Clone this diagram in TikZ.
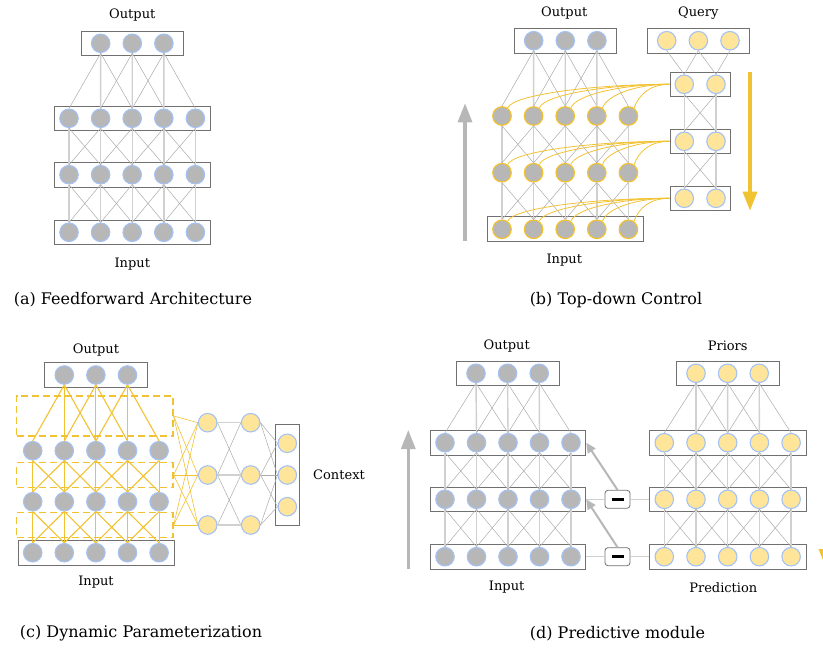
\documentclass[tikz,border=0pt]{standalone}
\usepackage{fontspec}
\setmainfont{DejaVu Serif}
\usetikzlibrary{arrows.meta,fit,positioning}

\definecolor{nodeblue}{HTML}{A4C2F4}
\definecolor{nodegray}{HTML}{B7B7B7}
\definecolor{nodeyellow}{HTML}{FFE599}
\definecolor{gold}{HTML}{F1C232}
\definecolor{boxgray}{HTML}{707070}
\definecolor{linegray}{HTML}{ABABAB}
\definecolor{linelight}{HTML}{D0D0D0}
\definecolor{arrowgray}{HTML}{B7B7B7}

\tikzset{
  neuron/.style={circle, minimum size=18.5pt, inner sep=0pt, line width=1.1pt, draw=nodeblue, fill=nodegray},
  yneuron/.style={neuron, fill=nodeyellow},
  gneuron/.style={neuron, draw=gold, line width=1.2pt},
  lbox/.style={draw=boxgray, line width=0.8pt, inner xsep=5pt, inner ysep=2.6pt},
  obox/.style={lbox, inner xsep=10pt},
  dashbox/.style={draw=gold, line width=1.2pt, dash pattern=on 7pt off 4pt, inner sep=0pt},
  minusbox/.style={draw=boxgray, fill=white, rounded corners=3pt, line width=0.8pt, minimum width=25pt, minimum height=18pt, inner sep=0pt},
  dline/.style={draw=linegray, line width=0.5pt},
  vline/.style={draw=linelight, line width=1.4pt},
  ycon/.style={draw=gold, line width=1.1pt},
  ythin/.style={draw=gold, line width=0.6pt},
  ycurve/.style={draw=gold, line width=0.8pt},
  bigarrow/.style={line width=3.2pt, -{Triangle[length=19pt,width=14pt]}},
  smallarrow/.style={draw=arrowgray, line width=2pt, -{Triangle[length=10pt,width=9pt]}},
  label/.style={font=\fontsize{13}{15}\selectfont},
  caption/.style={font=\fontsize{16}{18}\selectfont}
}

% 3 nodes above, 5 below
\newcommand{\fanrows}[4]{%
  \foreach \i [evaluate=\i as \j using int(\i+1), evaluate=\i as \k using int(\i+2)] in {1,2,3} {
    \draw[#3] (#1-\i.south) -- (#2-\j.north);
    \draw[#4] (#1-\i.south) -- (#2-\i.north);
    \draw[#4] (#1-\i.south) -- (#2-\k.north);
  }
}
% 5 nodes above, 5 below
\newcommand{\meshrows}[4]{%
  \foreach \i in {1,...,5} {
    \draw[#3] (#1-\i.south) -- (#2-\i.north);
  }
  \foreach \i [evaluate=\i as \j using int(\i+1)] in {1,...,4} {
    \draw[#4] (#1-\i.south) -- (#2-\j.north);
    \draw[#4] (#1-\j.south) -- (#2-\i.north);
  }
}

\begin{document}
\begin{tikzpicture}[x=1pt,y=-1pt]
\useasboundingbox (0,0) rectangle (823,648);

%% (a) feedforward
\foreach \i in {1,2,3}
  \node[neuron] (a-0-\i) at ({100.7+31.6*(\i-1)},43.3) {};
\foreach \r/\y in {1/118.3,2/174.7,3/232.3}
  \foreach \i in {1,...,5}
    \node[neuron] (a-\r-\i) at ({69+31.6*(\i-1)},\y) {};
\node[obox, fit=(a-0-1)(a-0-3)] (a-0box) {};
\foreach \r in {1,2,3}
  \node[lbox, fit=(a-\r-1)(a-\r-5)] (a-\r box) {};
\fanrows{a-0}{a-1}{vline}{dline}
\meshrows{a-1}{a-2}{vline}{dline}
\meshrows{a-2}{a-3}{vline}{dline}
\node[label] (a-out) at (132.3,15) {Output};
\node[label] (a-in) at (132.3,264) {Input};
\node[caption] (a-cap) at (133,300) {(a) Feedforward Architecture};

%% (b) top-down control
\foreach \i in {1,2,3}
  \node[neuron] (b-0-\i) at ({533.7+31.6*(\i-1)},40.7) {};
\foreach \r/\y in {1/116,2/172.7,3/229.3}
  \foreach \i in {1,...,5}
    \node[gneuron] (b-\r-\i) at ({502+31.6*(\i-1)},\y) {};
\foreach \i in {1,2,3}
  \node[yneuron] (b-q0-\i) at ({666.7+31.65*(\i-1)},40.7) {};
\foreach \r/\y in {1/84.3,2/141.3,3/198.3}
  \foreach \i in {1,2}
    \node[yneuron] (b-q\r-\i) at ({684.3+31.7*(\i-1)},\y) {};
\node[obox, fit=(b-0-1)(b-0-3)] (b-0box) {};
\node[lbox, fit=(b-3-1)(b-3-5)] (b-3box) {};
\node[obox, fit=(b-q0-1)(b-q0-3)] (b-q0box) {};
\foreach \r in {1,2,3}
  \node[lbox, inner xsep=4.5pt, fit=(b-q\r-1)(b-q\r-2)] (b-q\r box) {};
\fanrows{b-0}{b-1}{vline}{dline}
\meshrows{b-1}{b-2}{vline}{dline}
\meshrows{b-2}{b-3}{vline}{dline}
\draw[dline] (b-q0-1.south) -- (b-q1-1.north);
\draw[dline] (b-q0-2.south) -- (b-q1-1.north);
\draw[dline] (b-q0-2.south) -- (b-q1-2.north);
\draw[dline] (b-q0-3.south) -- (b-q1-2.north);
\foreach \r/\s in {1/2,2/3} {
  \draw[vline] (b-q\r-1.south) -- (b-q\s-1.north);
  \draw[vline] (b-q\r-2.south) -- (b-q\s-2.north);
  \draw[dline] (b-q\r-1.south) -- (b-q\s-2.north);
  \draw[dline] (b-q\r-2.south) -- (b-q\s-1.north);
}
\foreach \r in {1,2,3}
  \foreach \i in {1,...,5}
    \draw[ycurve] (b-q\r box.west) to[out=180,in=70,out looseness=1.2,in distance=14pt] (b-\r-\i.55);
\coordinate (b-up-s) at (465,240.7);
\coordinate (b-up-e) at (465,103.3);
\coordinate (b-dn-s) at (750,71.7);
\coordinate (b-dn-e) at (750,210.7);
\draw[bigarrow, draw=arrowgray, fill=arrowgray] (b-up-s) -- (b-up-e);
\draw[bigarrow, draw=gold, fill=gold] (b-dn-s) -- (b-dn-e);
\node[label] (b-out) at (564.3,13) {Output};
\node[label] (b-query) at (698.3,13) {Query};
\node[label] (b-in) at (564.3,260) {Input};
\node[caption] (b-cap) at (616,300) {(b) Top-down Control};

%% (c) dynamic parameterization
\foreach \i in {1,2,3}
  \node[neuron] (c-0-\i) at ({64.3+31.6*(\i-1)},375) {};
\foreach \r/\y in {1/450.7,2/501.7,3/552.7}
  \foreach \i in {1,...,5}
    \node[neuron] (c-\r-\i) at ({32.7+31.6*(\i-1)},\y) {};
\node[obox, fit=(c-0-1)(c-0-3)] (c-0box) {};
\node[lbox, fit=(c-3-1)(c-3-5)] (c-3box) {};
\node[dashbox, minimum width=156.3pt, minimum height=40pt] (c-d1) at (94.85,416) {};
\node[dashbox, minimum width=156.3pt, minimum height=24.6pt] (c-d2) at (94.85,475) {};
\node[dashbox, minimum width=156.3pt, minimum height=24.6pt] (c-d3) at (94.85,525) {};
\fanrows{c-0}{c-1}{ycon}{ycon}
\meshrows{c-1}{c-2}{ycon}{ycon}
\meshrows{c-2}{c-3}{ycon}{ycon}
\foreach \r/\y in {1/422.7,2/475,3/525} {
  \node[yneuron] (c-h1-\r) at (207.7,\y) {};
  \node[yneuron] (c-h2-\r) at (250.7,\y) {};
}
\foreach \r/\y in {1/443.3,2/475,3/506.7}
  \node[yneuron] (c-ctx-\r) at (287.3,\y) {};
\node[lbox, inner xsep=2.5pt, inner ysep=9pt, fit=(c-ctx-1)(c-ctx-3)] (c-ctxbox) {};
\foreach \d in {1,2,3}
  \foreach \m in {1,2,3}
    \draw[ythin] (c-d\d.east) -- (c-h1-\m.west);
\foreach \r [evaluate=\r as \s using int(\r+1)] in {1,2} {
  \draw[dline] (c-h1-\r.east) -- (c-h2-\s.west);
  \draw[dline] (c-h1-\s.east) -- (c-h2-\r.west);
  \draw[dline] (c-h2-\r.east) -- (c-ctx-\s.west);
  \draw[dline] (c-h2-\s.east) -- (c-ctx-\r.west);
}
\foreach \r in {1,2,3} {
  \draw[vline] (c-h1-\r.east) -- (c-h2-\r.west);
  \draw[dline] (c-h2-\r.east) -- (c-ctx-\r.west);
}
\node[label] (c-out) at (96,350) {Output};
\node[label] (c-in) at (96,581.7) {Input};
\node[label] (c-ctx) at (339,475) {Context};
\node[caption] (c-cap) at (141,633.3) {(c) Dynamic Parameterization};

%% (d) predictive module
\foreach \i in {1,2,3} {
  \node[neuron] (d-0-\i) at ({476+31.6*(\i-1)},373.3) {};
  \node[yneuron] (d-p0-\i) at ({696+31.6*(\i-1)},373.3) {};
}
\foreach \r/\y in {1/442.7,2/499.3,3/556.7}
  \foreach \i in {1,...,5} {
    \node[neuron] (d-\r-\i) at ({445+31.5*(\i-1)},\y) {};
    \node[yneuron] (d-p\r-\i) at ({664.3+31.7*(\i-1)},\y) {};
  }
\node[obox, fit=(d-0-1)(d-0-3)] (d-0box) {};
\node[obox, fit=(d-p0-1)(d-p0-3)] (d-p0box) {};
\foreach \r in {1,2,3} {
  \node[lbox, fit=(d-\r-1)(d-\r-5)] (d-\r box) {};
  \node[lbox, fit=(d-p\r-1)(d-p\r-5)] (d-p\r box) {};
}
\fanrows{d-0}{d-1}{vline}{dline}
\meshrows{d-1}{d-2}{vline}{dline}
\meshrows{d-2}{d-3}{vline}{dline}
\fanrows{d-p0}{d-p1}{vline}{dline}
\meshrows{d-p1}{d-p2}{vline}{dline}
\meshrows{d-p2}{d-p3}{vline}{dline}
\node[minusbox] (d-m2) at (617.5,499.3) {\rule{12pt}{2.6pt}};
\node[minusbox] (d-m3) at (617.5,556.7) {\rule{12pt}{2.6pt}};
\foreach \r in {2,3} {
  \draw[vline] (d-\r box.east) -- (d-m\r.west);
  \draw[vline] (d-m\r.east) -- (d-p\r box.west);
}
\draw[smallarrow] (d-m2.north) -- (d-1box.east);
\draw[smallarrow] (d-m3.north) -- (d-2box.east);
\coordinate (d-up-s) at (408.3,568.7);
\coordinate (d-up-e) at (408.3,430);
\coordinate (d-dn-s) at (826,430);
\coordinate (d-dn-e) at (826,568);
\draw[bigarrow, draw=arrowgray, fill=arrowgray] (d-up-s) -- (d-up-e);
\draw[bigarrow, draw=gold, fill=gold] (d-dn-s) -- (d-dn-e);
\node[label] (d-out) at (506.7,345.7) {Output};
\node[label] (d-priors) at (727.7,345.7) {Priors};
\node[label] (d-in) at (506.7,587.3) {Input};
\node[label] (d-pred) at (723.3,587.3) {Prediction};
\node[caption] (d-cap) at (617.5,633.3) {(d) Predictive module};
\end{tikzpicture}
\end{document}
